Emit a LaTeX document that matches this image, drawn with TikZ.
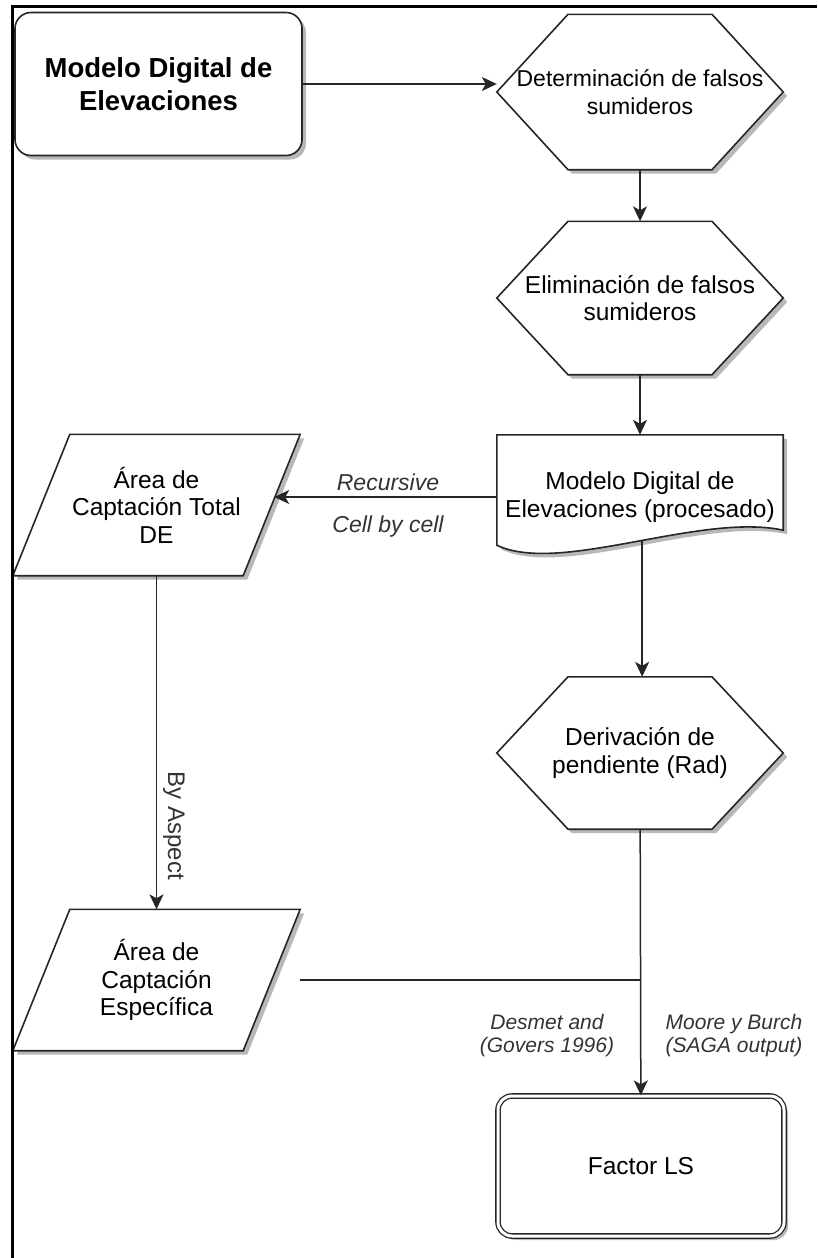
\documentclass[tikz,border=0pt]{standalone}
\usepackage{fontspec}
\setmainfont{Liberation Sans}
\usetikzlibrary{shadows,arrows.meta,calc}
\pgfdeclarelayer{background}
\pgfsetlayers{background,main}

% hexagon drawn around a text holder node
\newcommand{\drawhex}[1]{%
  \draw[outline] ([xshift=-72pt]#1.north) -- ([xshift=72pt]#1.north) -- (#1.east)
    -- ([xshift=72pt]#1.south) -- ([xshift=-72pt]#1.south) -- (#1.west) -- cycle;}
% parallelogram (data) drawn around a text holder node
\newcommand{\drawdata}[1]{%
  \draw[outline] ([xshift=57pt]#1.north west) -- (#1.north east)
    -- ([xshift=-57pt]#1.south east) -- (#1.south west) -- cycle;}

\begin{document}
\begin{tikzpicture}[x=1pt,y=-1pt,
  lbl/.style={font=\fontsize{24.5}{27.5}\selectfont, align=center, inner sep=0pt},
  shadowed/.style={drop shadow={shadow xshift=4pt, shadow yshift=-4pt, opacity=0.28, fill=black}},
  outline/.style={draw=black!85, line width=1.6pt, fill=white, shadowed},
  holder/.style={lbl, minimum width=286pt, minimum height=#1},
  arr/.style={draw=black!85, line width=1.5pt, -{Stealth[length=15pt,width=14pt,inset=4pt]}},
  link/.style={draw=black!85, line width=1.5pt},
  note/.style={font=\itshape\fontsize{23}{26}\selectfont, align=center, inner sep=0pt, text=black!80},
  small/.style={font=\itshape\fontsize{21}{23}\selectfont, align=center, inner sep=0pt, text=black!80},
]
\useasboundingbox (0,0) rectangle (817,1258);

% page frame
\draw[line width=3pt] (12,1258) -- (12,6) -- (817,6);

% start node
\node[lbl, font=\bfseries\fontsize{27.5}{33}\selectfont, draw=black!85, line width=1.6pt,
      fill=white, rounded corners=16pt, minimum width=287pt, minimum height=143pt, shadowed]
  (mde) at (158.5,84) {Modelo Digital de\\Elevaciones};

% text holders of the right column
\node[holder=155pt, font=\fontsize{23}{27.5}\selectfont] (hex1) at (640,92) {Determinación de falsos\\sumideros};
\node[holder=153pt] (hex2) at (640,298) {Eliminación de falsos\\sumideros};
\node[holder=124pt] (doc) at (640,497) {Modelo Digital de\\Elevaciones (procesado)};
\node[holder=152pt] (hex3) at (640,753) {Derivación de\\pendiente (Rad)};

% text holders of the left column
\node[holder=141pt, minimum width=287pt] (p1) at (156.5,505) {Área de\\Captación Total\\DE};
\node[holder=141pt, minimum width=287pt] (p2) at (156.5,980) {Área de\\Captación\\Específica};

% result node
\node[lbl, draw=black!85, double=white, double distance=3pt, line width=1.3pt,
      fill=white, rounded corners=14pt, minimum width=286pt, minimum height=140pt, shadowed]
  (ls) at (641,1166) {Factor LS};

% shapes behind the text
\begin{pgfonlayer}{background}
  \drawhex{hex1}
  \drawhex{hex2}
  \drawhex{hex3}
  \draw[outline] (doc.north west) -- (doc.north east) -- ([yshift=29pt]doc.south east)
    .. controls +(-83,-18) and +(63,30) .. ([yshift=14pt]doc.south west)
    coordinate[pos=0.47] (docb) -- cycle;
  \drawdata{p1}
  \drawdata{p2}
\end{pgfonlayer}

\coordinate (p1r) at ([xshift=-26pt]p1.east);

% connectors
\draw[arr] (mde.east) -- (mde.east -| hex1.west);
\draw[arr] (hex1) -- (hex2);
\draw[arr] (hex2) -- (doc);
\draw[arr] (docb) -- (docb |- hex3.north);
\draw[arr] (doc.west) -- (doc.west -| p1r);
\draw[arr] (p1) -- (p2);
\draw[link] (p2.east) -- (p2.east -| hex3.south);
\draw[arr] (hex3) -- (ls);

% connector labels
\node[note] (rec) at (388,482) {Recursive};
\node[note] (cbc) at (388,527) {Cell by cell};
\node[lbl, font=\fontsize{24}{26}\selectfont, rotate=-90, text=black!80] (asp) at (174,826) {By Aspect};
\node[small] (dg) at (547,1036) {Desmet and\\(Govers 1996)};
\node[small] (mb) at (734,1036) {Moore y Burch\\(SAGA output)};
\end{tikzpicture}
\end{document}
